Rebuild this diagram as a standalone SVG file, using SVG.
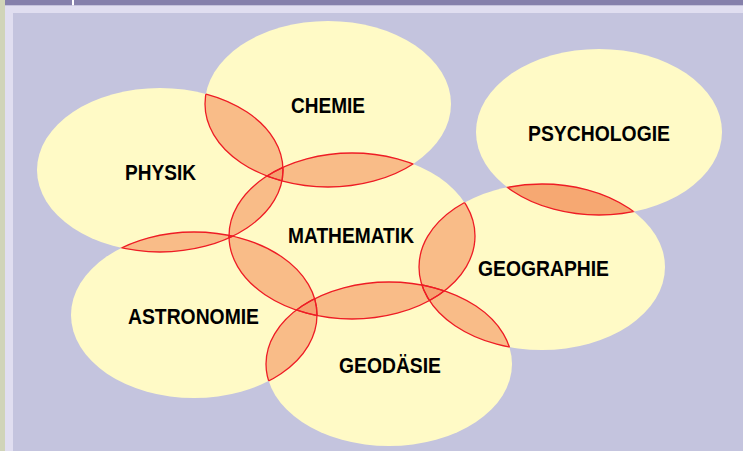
<svg xmlns="http://www.w3.org/2000/svg" xmlns:xlink="http://www.w3.org/1999/xlink" width="743" height="451" viewBox="0 0 743 451">
<style>
.bubble{fill:#FFFAC6;stroke:none}
.lbl{font-family:"Liberation Sans",Arial,sans-serif;font-weight:bold;font-size:22px;fill:#000}
.lens{fill:#F9BC88;stroke:none}
.lens2{fill:#F6A872;stroke:none}
.triple{fill:#F5A070;stroke:none}
.edge{fill:none;stroke:#EE1C25;stroke-width:1.3}
</style>
<defs>
<ellipse id="eP" cx="160" cy="170" rx="123" ry="82"/>
<ellipse id="eC" cx="328" cy="104" rx="123" ry="83"/>
<ellipse id="eS" cx="599" cy="132" rx="123" ry="83"/>
<ellipse id="eM" cx="352" cy="236" rx="123" ry="83"/>
<ellipse id="eG" cx="542" cy="267" rx="123" ry="83"/>
<ellipse id="eA" cx="194" cy="315" rx="123" ry="83"/>
<ellipse id="eD" cx="389" cy="364" rx="123" ry="82"/>
<clipPath id="cP"><use xlink:href="#eP"/></clipPath>
<clipPath id="cC"><use xlink:href="#eC"/></clipPath>
<clipPath id="cS"><use xlink:href="#eS"/></clipPath>
<clipPath id="cM"><use xlink:href="#eM"/></clipPath>
<clipPath id="cG"><use xlink:href="#eG"/></clipPath>
<clipPath id="cA"><use xlink:href="#eA"/></clipPath>
<clipPath id="cD"><use xlink:href="#eD"/></clipPath>
</defs>
<rect x="0" y="0" width="743" height="451" fill="#C4C4DE"/>
<rect x="5" y="5" width="738" height="8" fill="#E0DEF0"/>
<rect x="5" y="5" width="8" height="446" fill="#E0DEF0"/>
<rect x="0" y="0" width="5" height="451" fill="#D0D4B8"/>
<rect x="5" y="0" width="738" height="5.3" fill="#8580AB"/>
<rect x="72" y="0" width="2" height="5.3" fill="#FFFFFF"/>

<g id="node-physik"><use xlink:href="#eP" class="bubble"/><text class="lbl" x="125" y="180" textLength="71" lengthAdjust="spacingAndGlyphs">PHYSIK</text></g>
<g id="node-chemie"><use xlink:href="#eC" class="bubble"/><text class="lbl" x="291" y="113" textLength="74" lengthAdjust="spacingAndGlyphs">CHEMIE</text></g>
<g id="node-psychologie"><use xlink:href="#eS" class="bubble"/><text class="lbl" x="528" y="141" textLength="142" lengthAdjust="spacingAndGlyphs">PSYCHOLOGIE</text></g>
<g id="node-mathematik"><use xlink:href="#eM" class="bubble"/><text class="lbl" x="288" y="243" textLength="126" lengthAdjust="spacingAndGlyphs">MATHEMATIK</text></g>
<g id="node-geographie"><use xlink:href="#eG" class="bubble"/><text class="lbl" x="478" y="276" textLength="131" lengthAdjust="spacingAndGlyphs">GEOGRAPHIE</text></g>
<g id="node-astronomie"><use xlink:href="#eA" class="bubble"/><text class="lbl" x="128" y="324" textLength="131" lengthAdjust="spacingAndGlyphs">ASTRONOMIE</text></g>
<g id="node-geodaesie"><use xlink:href="#eD" class="bubble"/><text class="lbl" x="339" y="373" textLength="102" lengthAdjust="spacingAndGlyphs">GEODÄSIE</text></g>

<g id="overlaps">
<use xlink:href="#eP" class="lens" clip-path="url(#cC)"/>
<use xlink:href="#eC" class="lens" clip-path="url(#cM)"/>
<use xlink:href="#eP" class="lens" clip-path="url(#cM)"/>
<use xlink:href="#eP" class="lens" clip-path="url(#cA)"/>
<use xlink:href="#eM" class="lens" clip-path="url(#cA)"/>
<use xlink:href="#eM" class="lens" clip-path="url(#cD)"/>
<use xlink:href="#eA" class="lens" clip-path="url(#cD)"/>
<use xlink:href="#eM" class="lens" clip-path="url(#cG)"/>
<use xlink:href="#eG" class="lens" clip-path="url(#cD)"/>
<use xlink:href="#eS" class="lens2" clip-path="url(#cG)"/>
<g clip-path="url(#cC)"><use xlink:href="#eP" class="triple" clip-path="url(#cM)"/></g>
<g clip-path="url(#cA)"><use xlink:href="#eP" class="triple" clip-path="url(#cM)"/></g>
<g clip-path="url(#cD)"><use xlink:href="#eM" class="triple" clip-path="url(#cA)"/></g>
<g clip-path="url(#cD)"><use xlink:href="#eM" class="triple" clip-path="url(#cG)"/></g>
<use xlink:href="#eP" class="edge" clip-path="url(#cC)"/><use xlink:href="#eC" class="edge" clip-path="url(#cP)"/>
<use xlink:href="#eC" class="edge" clip-path="url(#cM)"/><use xlink:href="#eM" class="edge" clip-path="url(#cC)"/>
<use xlink:href="#eP" class="edge" clip-path="url(#cM)"/><use xlink:href="#eM" class="edge" clip-path="url(#cP)"/>
<use xlink:href="#eP" class="edge" clip-path="url(#cA)"/><use xlink:href="#eA" class="edge" clip-path="url(#cP)"/>
<use xlink:href="#eM" class="edge" clip-path="url(#cA)"/><use xlink:href="#eA" class="edge" clip-path="url(#cM)"/>
<use xlink:href="#eM" class="edge" clip-path="url(#cD)"/><use xlink:href="#eD" class="edge" clip-path="url(#cM)"/>
<use xlink:href="#eA" class="edge" clip-path="url(#cD)"/><use xlink:href="#eD" class="edge" clip-path="url(#cA)"/>
<use xlink:href="#eM" class="edge" clip-path="url(#cG)"/><use xlink:href="#eG" class="edge" clip-path="url(#cM)"/>
<use xlink:href="#eG" class="edge" clip-path="url(#cD)"/><use xlink:href="#eD" class="edge" clip-path="url(#cG)"/>
<use xlink:href="#eS" class="edge" clip-path="url(#cG)"/><use xlink:href="#eG" class="edge" clip-path="url(#cS)"/>
</g>
</svg>
